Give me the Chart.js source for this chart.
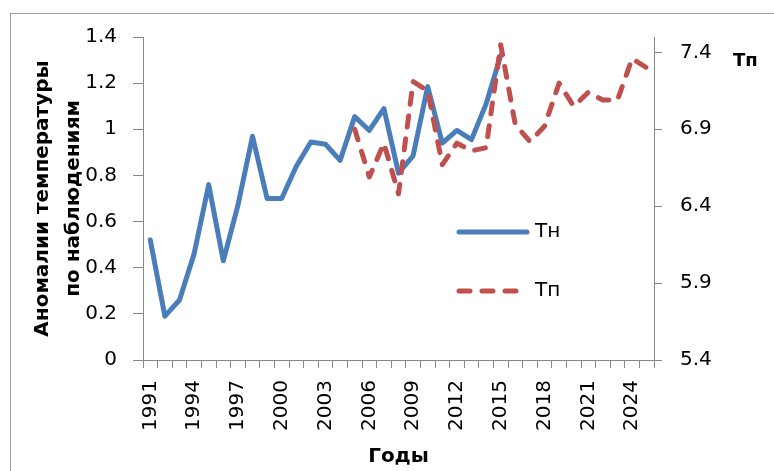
<!DOCTYPE html>
<html>
<head>
<meta charset="utf-8">
<script src="https://cdn.jsdelivr.net/npm/chart.js@4"></script>
<style>
  html, body { margin: 0; padding: 0; background: #fff; overflow: hidden; }
  #frame { position: absolute; left: 10px; top: 13px; width: 800px; height: 500px; border: 1px solid #9a9a9a; }
  #wrap { position: absolute; left: 0; top: 0; width: 774px; height: 471px; }
</style>
</head>
<body>
<div id="frame"></div>
<div id="wrap"><canvas id="chart"></canvas></div>
<script>
// --- data ---
const years = ['1991','1992','1993','1994','1995','1996','1997','1998','1999','2000',
  '2001','2002','2003','2004','2005','2006','2007','2008','2009','2010',
  '2011','2012','2013','2014','2015','2016','2017','2018','2019','2020',
  '2021','2022','2023','2024','2025'];
const shownYears = ['1991','1994','1997','2000','2003','2006','2009','2012','2015','2018','2021','2024'];

// Тн — observed anomalies, left axis (1991–2015)
const tnValues = [0.52, 0.19, 0.26, 0.46, 0.76, 0.43, 0.67, 0.97, 0.70, 0.70,
  0.84, 0.945, 0.935, 0.865, 1.055, 0.995, 1.09, 0.81, 0.885, 1.185,
  0.94, 0.995, 0.955, 1.11, 1.32,
  null, null, null, null, null, null, null, null, null, null];

// Тп — right axis (2005–2025)
const tpValues = [null, null, null, null, null, null, null, null, null, null,
  null, null, null, null, 6.90, 6.59, 6.81, 6.48, 7.21, 7.15,
  6.67, 6.81, 6.76, 6.78, 7.45, 6.93, 6.82, 6.92, 7.20, 7.05,
  7.14, 7.09, 7.09, 7.36, 7.30];

const tpTicks = [5.4, 5.9, 6.4, 6.9, 7.4];
const yTitleLines = ['Аномалии температуры', 'по наблюдениям'];
const xTitle = 'Годы';
const y2Title = 'Тп';

const FONT = '"DejaVu Sans", sans-serif';
const AXIS_GREY = '#868686';

// right-hand title and the in-plot legend
const extras = {
  id: 'extras',
  afterDraw(chart) {
    const ctx = chart.ctx;
    ctx.save();
    ctx.fillStyle = '#000';
    ctx.textBaseline = 'middle';
    ctx.font = 'bold 18px ' + FONT;
    ctx.fillText(y2Title, 733, 61);

    chart.data.datasets.forEach((ds, i) => {
      const y = 232 + i * 59;
      ctx.beginPath();
      ctx.strokeStyle = ds.borderColor;
      ctx.lineWidth = ds.borderWidth;
      ctx.lineCap = 'round';
      ctx.setLineDash(ds.borderDash || []);
      ctx.moveTo(459, y);
      ctx.lineTo(527, y);
      ctx.stroke();
      ctx.setLineDash([]);
      ctx.font = '20px ' + FONT;
      ctx.fillText(ds.label, 535, y);
    });
    ctx.restore();
  }
};

new Chart(document.getElementById('chart'), {
  type: 'line',
  data: {
    labels: years,
    datasets: [
      {
        label: 'Тн',
        data: tnValues,
        yAxisID: 'y',
        borderColor: '#4a7ebb',
        borderWidth: 5,
        borderCapStyle: 'round',
        borderJoinStyle: 'round',
        pointRadius: 0,
        tension: 0,
        order: 1,
      },
      {
        label: 'Тп',
        data: tpValues,
        yAxisID: 'y2',
        borderColor: '#c0504d',
        borderWidth: 5,
        borderDash: [11, 12],
        borderCapStyle: 'round',
        borderJoinStyle: 'round',
        pointRadius: 0,
        tension: 0,
        order: 0,
      },
    ],
  },
  options: {
    responsive: true,
    maintainAspectRatio: false,
    animation: false,
    layout: { padding: { top: 37, left: 0, right: 0, bottom: 0 } },
    plugins: { legend: { display: false }, tooltip: { enabled: false } },
    scales: {
      x: {
        offset: true,
        grid: { offset: true, drawOnChartArea: false, tickLength: 8, color: AXIS_GREY },
        border: { color: AXIS_GREY },
        ticks: {
          autoSkip: false,
          minRotation: 90,
          maxRotation: 90,
          padding: 12,
          color: '#000',
          font: { family: FONT, size: 20 },
          callback(v, i) { return shownYears.includes(years[i]) ? years[i] : ''; },
        },
        title: {
          display: true,
          text: xTitle,
          color: '#000',
          font: { family: FONT, size: 20, weight: 'bold' },
          padding: { top: 0, bottom: 2 },
        },
        afterFit(s) { s.height = 111; },
      },
      y: {
        position: 'left',
        min: 0,
        max: 1.4,
        grid: { drawOnChartArea: false, tickLength: 10, color: AXIS_GREY },
        border: { color: AXIS_GREY },
        ticks: {
          stepSize: 0.2,
          padding: 16,
          color: '#000',
          font: { family: FONT, size: 20 },
          callback: v => String(Number(v.toFixed(1))),
        },
        title: {
          display: true,
          text: yTitleLines,
          color: '#000',
          font: { family: FONT, size: 20, weight: 'bold', lineHeight: '31px' },
          padding: { top: 27, bottom: 0 },
        },
        afterFit(s) { s.width = 143; },
      },
      y2: {
        position: 'right',
        min: 5.4,
        max: 7.5,
        afterBuildTicks(s) { s.ticks = tpTicks.map(v => ({ value: v })); },
        grid: { drawOnChartArea: false, tickLength: 8, color: AXIS_GREY },
        border: { color: AXIS_GREY },
        ticks: {
          padding: 18,
          color: '#000',
          font: { family: FONT, size: 20 },
          callback: v => v.toFixed(1),
        },
        afterFit(s) { s.width = 120; },
      },
    },
  },
  plugins: [extras],
});
</script>
</body>
</html>
